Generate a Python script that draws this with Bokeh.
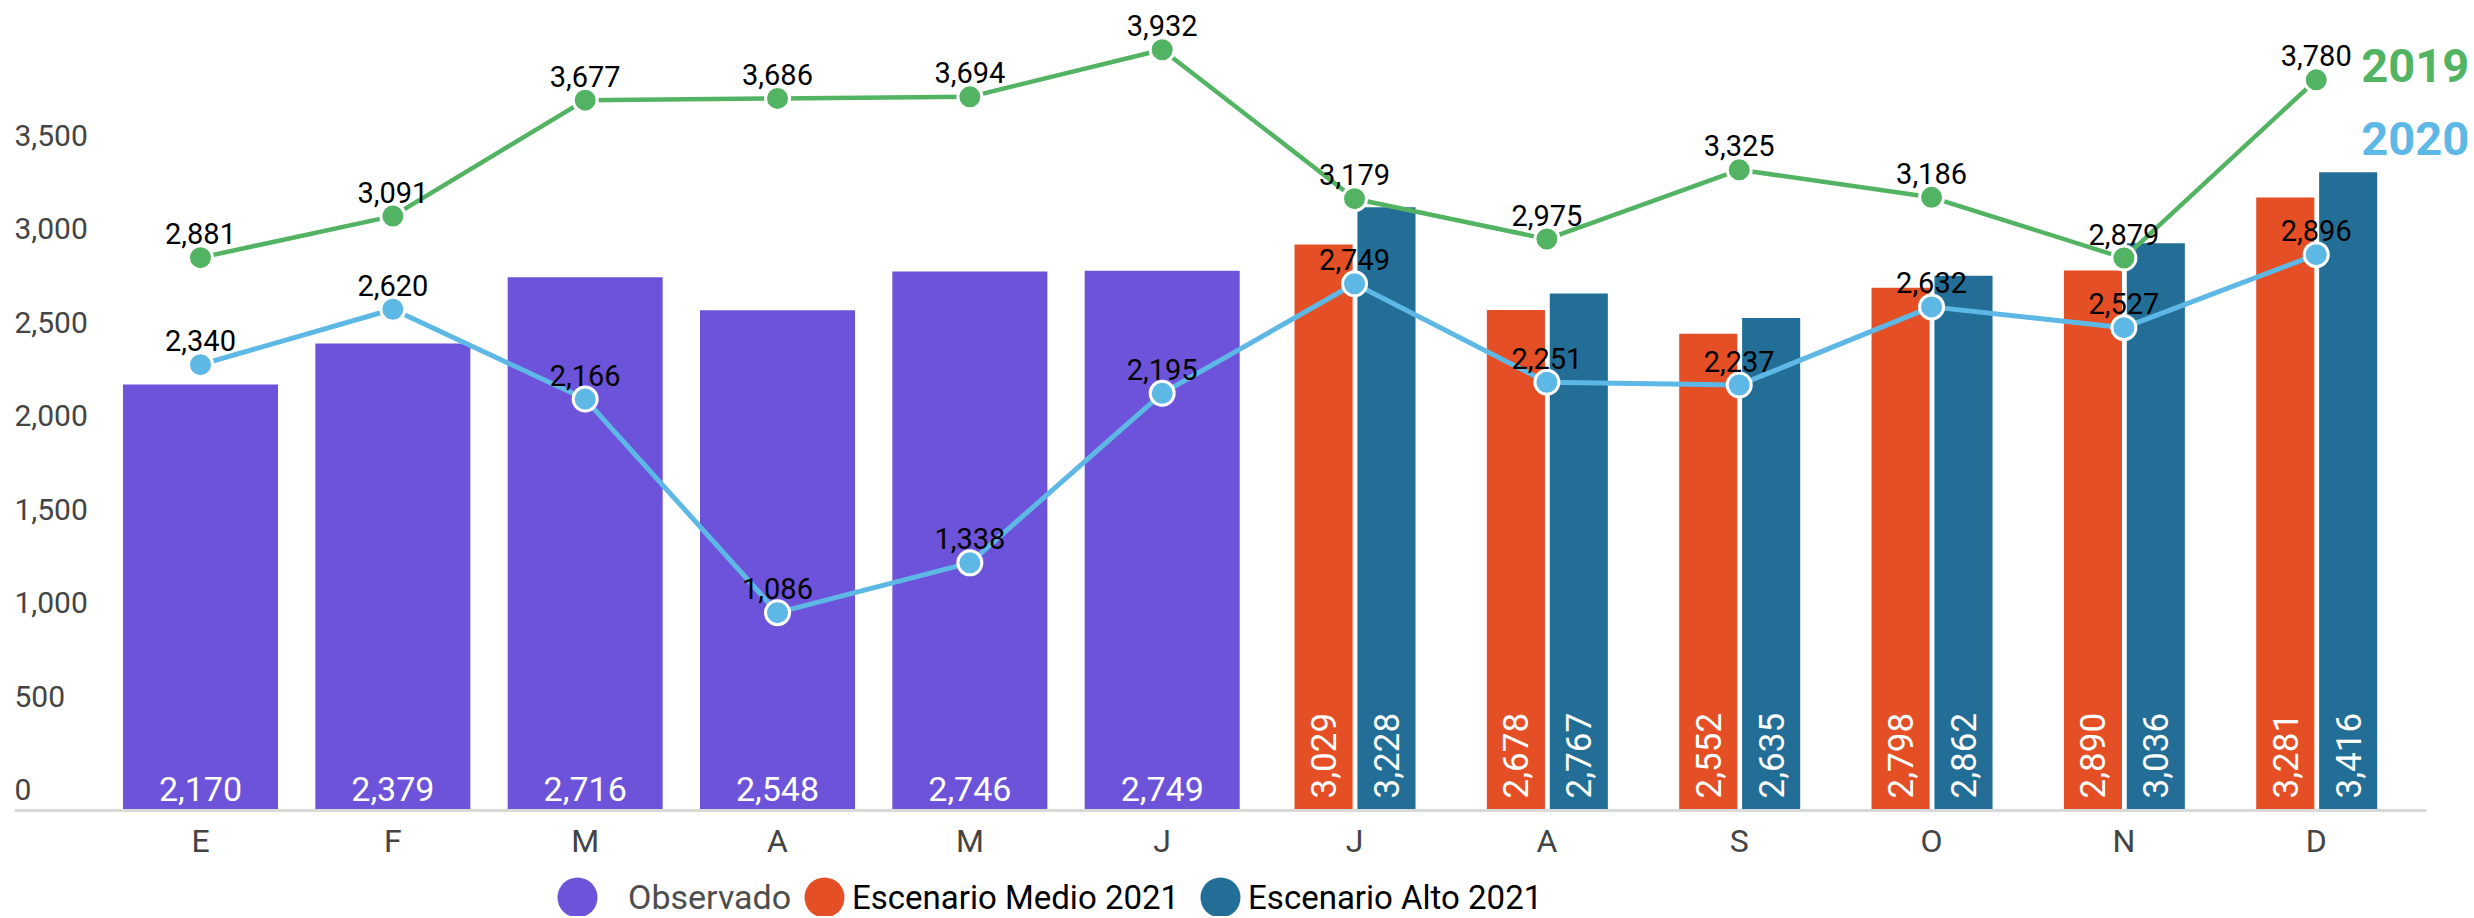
import math
from bokeh.plotting import figure
from bokeh.models import ColumnDataSource, Range1d, FixedTicker, Legend, LegendItem, Label
from bokeh.core.properties import value
from bokeh.transform import dodge
from bokeh.embed import file_html
from bokeh.resources import INLINE

# ---------------- data ----------------
months = ["E", "F", "M", "A", "M", "J", "J", "A", "S", "O", "N", "D"]
observado = [2170, 2379, 2716, 2548, 2746, 2749]            # E..J
escenario_medio = [3029, 2678, 2552, 2798, 2890, 3281]      # J..D
escenario_alto = [3228, 2767, 2635, 2862, 3036, 3416]       # J..D
serie_2019 = [2881, 3091, 3677, 3686, 3694, 3932, 3179, 2975, 3325, 3186, 2879, 3780]
serie_2020 = [2340, 2620, 2166, 1086, 1338, 2195, 2749, 2251, 2237, 2632, 2527, 2896]
y_ticks = [0, 500, 1000, 1500, 2000, 2500, 3000, 3500]

# ---------------- style ----------------
PURPLE = "#6c53d9"
RED = "#e44f26"
TEAL = "#236e96"
GREEN = "#52b462"
LBLUE = "#5db8e6"
FONT = value("Roboto")
NAN = float("nan")

def fmt(v):
    return "{:,}".format(v)

x_all = list(range(len(months)))
obs_x = x_all[:len(observado)]
esc_x = x_all[len(observado):]

x_start, x_end, axis_end = -0.967, 11.802, 11.573
p = figure(
    frame_width=2456, frame_height=908,
    min_border_left=14, min_border_right=0, min_border_top=8, min_border_bottom=0,
    x_range=Range1d(x_start, x_end), y_range=Range1d(-567.3, 4292),
    y_axis_location=None, output_backend="svg", toolbar_location=None,
    outline_line_color=None, background_fill_color="white", border_fill_color="white",
)
p.extra_y_ranges = {"obs": Range1d(-540.0, 4085.6), "yoy": Range1d(-450.0, 4140.5)}
p.xgrid.visible = False
p.ygrid.visible = False

# x axis, drawn at the zero line inside the frame
ax = p.xaxis[0]
ax.fixed_location = 0
ax.ticker = FixedTicker(ticks=x_all)
ax.bounds = (x_start, axis_end)
ax.major_label_overrides = {i: m for i, m in enumerate(months)}
ax.axis_line_color = "#d9d9d9"
ax.axis_line_width = 3
ax.major_tick_line_color = None
ax.minor_tick_line_color = None
ax.major_tick_out = 0
ax.major_tick_in = 0
ax.major_label_standoff = 12
ax.major_label_text_font = "Roboto"
ax.major_label_text_font_size = "32px"
ax.major_label_text_color = "#444444"

# y tick labels (left aligned, inside the frame)
ysrc = ColumnDataSource(dict(x=[x_start] * len(y_ticks), y=y_ticks,
                             t=[fmt(v) for v in y_ticks]))
p.text("x", "y", text="t", source=ysrc, y_offset=-21, text_align="left",
       text_baseline="middle", text_font=FONT, text_font_size="30px",
       text_color="#444444")

# bars
src_obs = ColumnDataSource(dict(x=obs_x, top=observado, base=[0] * len(obs_x),
                                lab=[fmt(v) for v in observado]))
src_esc = ColumnDataSource(dict(x=esc_x, medio=escenario_medio, alto=escenario_alto,
                                base=[0] * len(esc_x),
                                lm=[fmt(v) for v in escenario_medio],
                                la=[fmt(v) for v in escenario_alto]))

p.vbar(x="x", top="top", bottom=0, width=0.806, source=src_obs, y_range_name="obs",
       fill_color=PURPLE, line_color=None)
p.vbar(x=dodge("x", -0.161, range=p.x_range), top="medio", bottom=0, width=0.302,
       source=src_esc, fill_color=RED, line_color=None)
p.vbar(x=dodge("x", 0.166, range=p.x_range), top="alto", bottom=0, width=0.302,
       source=src_esc, fill_color=TEAL, line_color=None)

# bar value labels
p.text("x", "base", text="lab", source=src_obs, y_range_name="obs", y_offset=-21,
       text_align="center", text_baseline="middle", text_font=FONT,
       text_font_size="34px", text_color="white")
for dx, col in ((-0.161, "lm"), (0.166, "la")):
    p.text(x=dodge("x", dx, range=p.x_range), y="base", text=col, source=src_esc,
           angle=math.pi / 2, y_offset=-12, text_align="left", text_baseline="middle",
           text_font=FONT, text_font_size="35px", text_color="white")

# lines
src_l = ColumnDataSource(dict(x=x_all, y19=serie_2019, y20=serie_2020,
                              l19=[fmt(v) for v in serie_2019],
                              l20=[fmt(v) for v in serie_2020]))
p.line("x", "y19", source=src_l, y_range_name="yoy", line_color=GREEN, line_width=4.5)
p.scatter("x", "y19", source=src_l, y_range_name="yoy", marker="circle", size=24,
          fill_color=GREEN, line_color="white", line_width=3)
p.line("x", "y20", source=src_l, y_range_name="yoy", line_color=LBLUE, line_width=5)
p.scatter("x", "y20", source=src_l, y_range_name="yoy", marker="circle", size=24,
          fill_color=LBLUE, line_color="white", line_width=3)

for ycol, col in (("y19", "l19"), ("y20", "l20")):
    p.text("x", ycol, text=col, source=src_l, y_range_name="yoy", y_offset=-24,
           text_align="center", text_baseline="middle", text_font=FONT,
           text_font_size="29px", text_color="black")

# series labels on the right
last = x_all[-1]
p.add_layout(Label(x=last, y=851, x_units="data", y_units="screen", x_offset=45,
                   text="2019", text_font="Roboto", text_font_style="bold",
                   text_font_size="47px", text_color=GREEN, text_baseline="middle"))
p.add_layout(Label(x=last, y=778, x_units="data", y_units="screen", x_offset=45,
                   text="2020", text_font="Roboto", text_font_style="bold",
                   text_font_size="47px", text_color=LBLUE, text_baseline="middle"))

# legend (circle swatches from ellipse renderers without visible points)
def swatch(color):
    return p.ellipse(x=[NAN], y=[NAN], width=1, height=1, width_units="screen",
                     height_units="screen", fill_color=color, line_color=None)

lg_obs, lg_med, lg_alt = swatch(PURPLE), swatch(RED), swatch(TEAL)

common = dict(orientation="horizontal", glyph_width=50, glyph_height=50, padding=0,
              margin=0, border_line_color=None, background_fill_alpha=0,
              label_text_font="Roboto")
legA = Legend(items=[LegendItem(label="Observado", renderers=[lg_obs])],
              location=(538, -6), label_standoff=26, label_text_color="#4d4d4d",
              label_text_font_size="34px", **common)
legB = Legend(items=[LegendItem(label="Escenario Medio 2021", renderers=[lg_med]),
                     LegendItem(label="Escenario Alto 2021", renderers=[lg_alt])],
              location=(785, -6), label_standoff=3, spacing=16,
              label_text_color="black", label_text_font_size="33px", **common)
p.add_layout(legA)
p.add_layout(legB)

open("out.html", "w").write(file_html(p, INLINE))
